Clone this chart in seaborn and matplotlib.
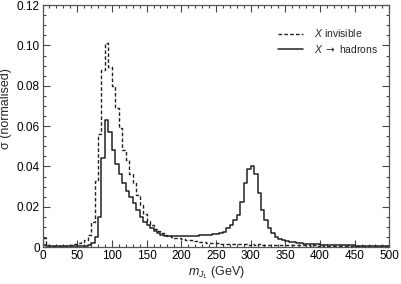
import numpy as np
import pandas as pd
import matplotlib
matplotlib.use("Agg")
import matplotlib.pyplot as plt
import seaborn as sns
from matplotlib.ticker import MultipleLocator

sns.set_style("ticks")
plt.rcParams['font.family'] = ['Liberation Sans', 'DejaVu Sans']
plt.rcParams['mathtext.fontset'] = 'custom'
plt.rcParams['mathtext.rm'] = 'Liberation Sans'
plt.rcParams['mathtext.it'] = 'Liberation Sans:italic'
plt.rcParams['mathtext.sf'] = 'DejaVu Sans'

# histogram: 5 GeV bins from 0 to 500
bin_width = 5
m_lo, m_hi = 0, 500

# X invisible (dashed)
sigma_invisible = [
    0.0045, 0.0008, 0.0005, 0.0004, 0.0004, 0.0005, 0.0006, 0.0008, 0.0010, 0.0013,
    0.0018, 0.0024, 0.0034, 0.0060, 0.0125, 0.0330, 0.0560, 0.0880, 0.1010, 0.0894,
    0.0800, 0.0690, 0.0590, 0.0480, 0.0430, 0.0360, 0.0320, 0.0260, 0.0210, 0.0165,
    0.0128, 0.0110, 0.0092, 0.0080, 0.0068, 0.0060, 0.0054, 0.0050, 0.0046, 0.0043,
    0.0040, 0.0037, 0.0034, 0.0032, 0.0029, 0.0026, 0.0024, 0.0022, 0.0020, 0.0019,
    0.0018, 0.0016, 0.0017, 0.0015, 0.0016, 0.0014, 0.0015, 0.0013, 0.0014, 0.0012,
    0.0017, 0.0012, 0.0013, 0.0011, 0.0012, 0.0010, 0.0012, 0.0010, 0.0011, 0.0009,
    0.0012, 0.0009, 0.0010, 0.0008, 0.0009, 0.0008, 0.0009, 0.0007, 0.0008, 0.0007,
    0.0010, 0.0006, 0.0007, 0.0006, 0.0007, 0.0005, 0.0006, 0.0005, 0.0006, 0.0004,
    0.0005, 0.0004, 0.0005, 0.0004, 0.0004, 0.0003, 0.0004, 0.0003, 0.0003, 0.0003,
]

# X -> hadrons (solid)
sigma_hadrons = [
    0.0010, 0.0004, 0.0003, 0.0003, 0.0003, 0.0003, 0.0003, 0.0003, 0.0004, 0.0004,
    0.0005, 0.0005, 0.0006, 0.0010, 0.0020, 0.0050, 0.0150, 0.0440, 0.0630, 0.0570,
    0.0480, 0.0410, 0.0360, 0.0320, 0.0280, 0.0250, 0.0218, 0.0185, 0.0150, 0.0125,
    0.0110, 0.0094, 0.0080, 0.0068, 0.0061, 0.0057, 0.0055, 0.0054, 0.0054, 0.0054,
    0.0054, 0.0054, 0.0055, 0.0056, 0.0057, 0.0058, 0.0059, 0.0060, 0.0062, 0.0064,
    0.0066, 0.0069, 0.0076, 0.0094, 0.0110, 0.0134, 0.0160, 0.0225, 0.0316, 0.0385,
    0.0403, 0.0360, 0.0268, 0.0183, 0.0134, 0.0094, 0.0069, 0.0052, 0.0042, 0.0036,
    0.0031, 0.0027, 0.0024, 0.0021, 0.0019, 0.0017, 0.0016, 0.0015, 0.0014, 0.0013,
    0.0012, 0.0011, 0.0011, 0.0010, 0.0010, 0.0009, 0.0009, 0.0008, 0.0008, 0.0008,
    0.0007, 0.0007, 0.0007, 0.0006, 0.0006, 0.0006, 0.0006, 0.0005, 0.0005, 0.0005,
]

labels = ["$X$ invisible", r"$X\ \mathsf{\rightarrow}$ hadrons"]
x_ticks = [0, 50, 100, 150, 200, 250, 300, 350, 400, 450, 500]
y_ticks = [0, 0.02, 0.04, 0.06, 0.08, 0.10, 0.12]
y_ticklabels = ["0", "0.02", "0.04", "0.06", "0.08", "0.10", "0.12"]

edges = np.arange(m_lo, m_hi + bin_width, bin_width)
centres = edges[:-1] + bin_width / 2
df = pd.DataFrame({"m": centres, "inv": sigma_invisible, "had": sigma_hadrons})

fig, ax = plt.subplots(figsize=(4.01, 2.84), dpi=100)
fig.subplots_adjust(left=0.106, right=0.971, bottom=0.13, top=0.982)

sns.histplot(data=df, x="m", weights="inv", bins=edges.tolist(), element="step",
             fill=False, color="#222222", linestyle=(0, (2.6, 1.6)), linewidth=1.0,
             ax=ax, label=labels[0])
sns.histplot(data=df, x="m", weights="had", bins=edges.tolist(), element="step",
             fill=False, color="#222222", linestyle="-", linewidth=1.1,
             ax=ax, label=labels[1])

ax.set_xlim(m_lo, m_hi)
ax.set_ylim(0, 0.12)
ax.set_xticks(x_ticks)
ax.set_yticks(y_ticks)
ax.set_yticklabels(y_ticklabels)
ax.xaxis.set_minor_locator(MultipleLocator(10))
ax.yaxis.set_minor_locator(MultipleLocator(0.005))
ax.tick_params(which='both', direction='in', top=True, right=True,
               colors='#444444', labelcolor='black', labelsize=8.5, width=0.8)
ax.tick_params(which='major', length=5, pad=2)
ax.tick_params(which='minor', length=2.5)
for s in ax.spines.values():
    s.set_visible(True)
    s.set_color('#555555')
    s.set_linewidth(0.9)

ax.set_xlabel("$m_{J_1}$ (GeV)", fontsize=9, labelpad=2)
ax.set_ylabel("σ (normalised)", fontsize=9)
ax.yaxis.set_label_coords(-0.088, 0.574)

ax.legend(loc='upper left', bbox_to_anchor=(0.668, 0.925), borderaxespad=0,
          frameon=False, fontsize=7.5, handlelength=2.4, handletextpad=1.0,
          labelspacing=0.35)

fig.savefig("out.png", dpi=100)
